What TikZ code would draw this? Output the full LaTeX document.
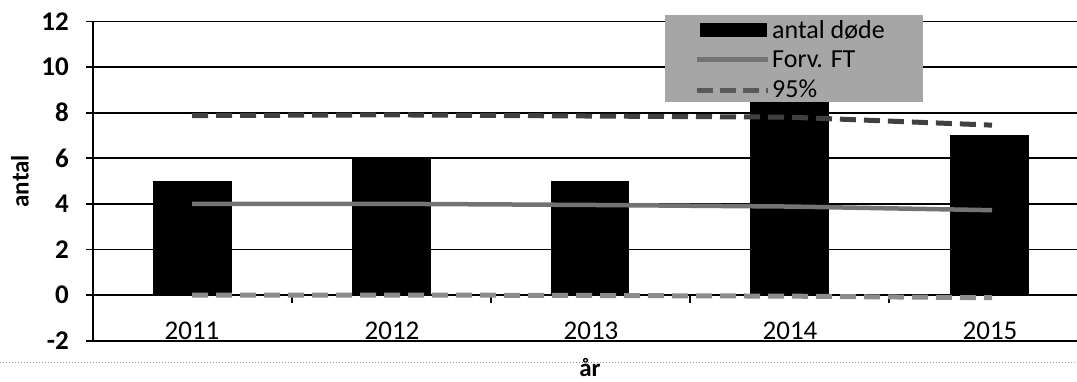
\documentclass[tikz,border=0pt]{standalone}
\usepackage{fontspec}
\setmainfont{Carlito}
\begin{document}
\begin{tikzpicture}[x=1pt,y=22.8pt,
  grid/.style={black,line width=1.8pt},
  bar/.style={fill=black,draw=none},
  ftline/.style={draw=black!55,line width=4.5pt},
  upper/.style={draw=black!75,line width=5pt,dash pattern=on 16pt off 8pt},
  lower/.style={draw=black!45,line width=5pt,dash pattern=on 16pt off 8pt},
  ticklab/.style={anchor=east,font=\fontsize{27}{30}\selectfont\bfseries,inner sep=0pt},
  catlab/.style={font=\fontsize{27}{30}\selectfont,inner sep=0pt},
  axtitle/.style={font=\fontsize{25}{28}\selectfont\bfseries,inner sep=0pt},
  legtext/.style={anchor=west,font=\fontsize{26}{28}\selectfont,inner sep=0pt}]
\useasboundingbox (0,-3.772) rectangle (1077,12.939);
% gridlines
\foreach \v in {0,2,4,6,8,10,12} \draw[grid] (86,\v) -- (1077,\v);
\draw[grid] (86,-2) -- (1077,-2);
\draw[grid] (93,12) -- (93,-2);
\foreach \xx in {292,491,690,889} \draw[black,line width=1.8pt] (\xx,0) -- (\xx,-0.35);
% tick labels
\foreach \v in {12,10,8,6,4,2,0,-2} \node[ticklab] (t\v) at (69,\v) {\v};
% bars
\fill[bar] (153,0) rectangle (232,5);
\fill[bar] (352,0) rectangle (431,6);
\fill[bar] (551,0) rectangle (629,5);
\fill[bar] (750,0) rectangle (829,9);
\fill[bar] (950,0) rectangle (1029,7);
% series lines
\draw[ftline] (192,4.0) -- (392,4.0) -- (590,3.95) -- (790,3.88) -- (992,3.72);
\draw[upper] (192,7.87) -- (392,7.9) -- (590,7.85) -- (790,7.8) -- (992,7.45);
\draw[lower] (192,0.0) -- (392,0.0) -- (590,-0.02) -- (790,-0.05) -- (992,-0.12);
% category labels
\node[catlab] (c2011) at (192,-1.55) {2011};
\node[catlab] (c2012) at (392,-1.55) {2012};
\node[catlab] (c2013) at (591,-1.55) {2013};
\node[catlab] (c2014) at (790,-1.55) {2014};
\node[catlab] (c2015) at (990,-1.55) {2015};
% axis titles
\node[axtitle,rotate=90] (ytitle) at (20,4.99) {antal};
\node[axtitle] (xtitle) at (590,-3.16) {år};
% chart border (dotted)
\draw[black!40,line width=1pt,dotted] (0,-2.95) -- (1077,-2.95);
% legend
\fill[black!35] (665,8.46) rectangle (923,12.28);
\fill[black] (700,11.32) rectangle (767,11.93);
\draw[ftline] (697,10.33) -- (768,10.33);
\draw[lower,draw=black!65,dash pattern=on 16pt off 7pt] (697,8.99) -- (768,8.99);
\node[legtext] (l1) at (772,11.62) {antal døde};
\node[legtext] (l2) at (772,10.35) {Forv. FT};
\node[legtext] (l3) at (772,9.03) {95\%};
\end{tikzpicture}
\end{document}
